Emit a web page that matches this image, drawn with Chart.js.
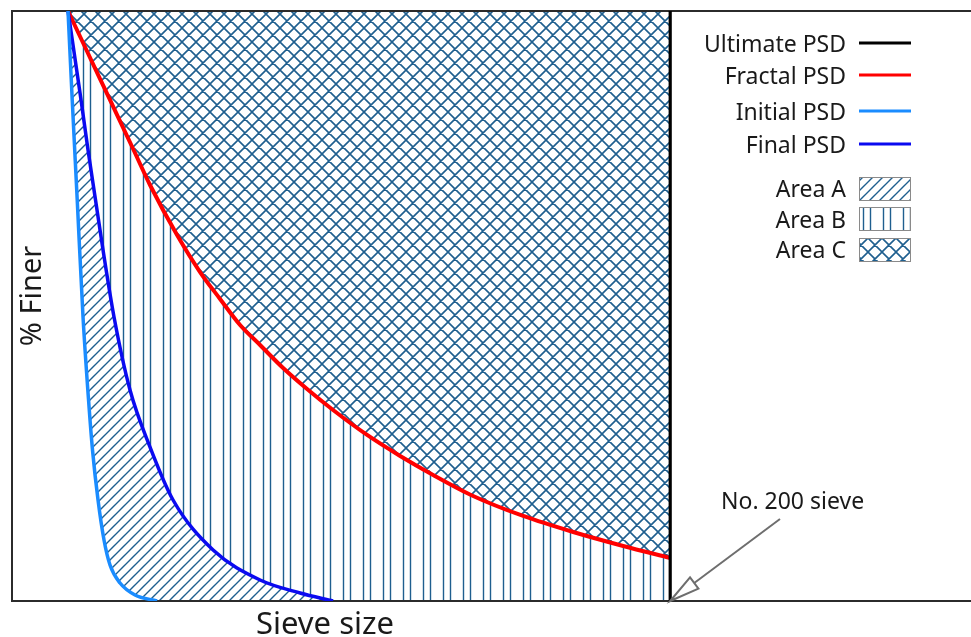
<!DOCTYPE html>
<html>
<head>
<meta charset="utf-8">
<script src="https://cdn.jsdelivr.net/npm/chart.js@4"></script>
<style>
html,body{margin:0;padding:0;background:#fff;overflow:hidden}
#wrap{width:971px;height:637px;position:relative}
</style>
</head>
<body>
<div id="wrap"><canvas id="c"></canvas></div>
<script>
// ---- data (x: relative sieve-size units, No. 200 sieve = 100; y: % finer) ----
const X_MAX = 145.7;
const ULTIMATE_X = 100;

const fractalX = [8.51, 11.31, 14.89, 18.48, 20.97, 25.08, 28.57, 31.61, 34.65, 37.69, 41.19, 44.83, 48.78, 53.95, 58.97, 63.98, 70.06, 77.66, 85.26, 92.86, 100];
const fractalY = [100, 93.39, 84.92, 76.44, 70.51, 62.03, 55.76, 51.19, 46.78, 43.39, 39.49, 35.93, 32.37, 28.14, 24.58, 21.36, 17.80, 14.41, 11.69, 9.32, 7.29];

const initialX = [8.51, 9.15, 9.91, 10.79, 11.63, 12.23, 13.07, 13.98, 14.89, 16.41, 18.69, 22.04];
const initialY = [100, 84.92, 67.97, 48.14, 34.07, 25.59, 17.12, 10.34, 6.10, 3.05, 1.02, 0];

const finalX = [8.51, 10.49, 11.55, 12.69, 13.83, 15.50, 17.93, 20.97, 24.47, 30.55, 37.69, 43.77, 48.78];
const finalY = [100, 84.92, 76.44, 67.97, 59.49, 48.14, 35.76, 26.10, 17.12, 8.64, 3.56, 1.36, 0];

const ultimateX = [ULTIMATE_X, ULTIMATE_X];
const ultimateY = [0, 100];

const lineLabels = ['Ultimate PSD', 'Fractal PSD', 'Initial PSD', 'Final PSD'];
const areaLabels = ['Area A', 'Area B', 'Area C'];
const xTitle = 'Sieve size';
const yTitle = '% Finer';
const annotationText = 'No. 200 sieve';

// ---- helpers ----
const pts = (xs, ys) => xs.map((v, i) => ({x: v, y: ys[i]}));
const HATCH = '#1f5f8f';

function makePattern(kind) {
  const w = kind === 'B' ? 20 : (kind === 'C' ? 14 : 10);
  const h = kind === 'B' ? 10 : w;
  const cv = document.createElement('canvas');
  cv.width = w; cv.height = h;
  const g = cv.getContext('2d');
  g.fillStyle = '#ffffff';
  g.fillRect(0, 0, w, h);
  g.strokeStyle = HATCH;
  g.lineWidth = kind === 'C' ? 1.6 : 1.4;
  g.beginPath();
  if (kind === 'A' || kind === 'C') {
    g.moveTo(-1, h + 1); g.lineTo(w + 1, -1);
    g.moveTo(-1, 1); g.lineTo(1, -1);
    g.moveTo(w - 1, h + 1); g.lineTo(w + 1, h - 1);
  }
  if (kind === 'C') {
    g.moveTo(-1, -1); g.lineTo(w + 1, h + 1);
    g.moveTo(w - 1, -1); g.lineTo(w + 1, 1);
    g.moveTo(-1, h - 1); g.lineTo(1, h + 1);
  }
  if (kind === 'B') {
    g.moveTo(3.5, 0); g.lineTo(3.5, h);
    g.moveTo(10.5, 0); g.lineTo(10.5, h);
  }
  g.stroke();
  return g.createPattern(cv, 'repeat');
}
const patA = makePattern('A');
const patB = makePattern('B');
const patC = makePattern('C');

const decor = {
  id: 'decor',
  afterDraw(chart) {
    const {ctx, scales: {x, y}} = chart;
    const ds = chart.data.datasets;
    ctx.save();
    ctx.fillStyle = '#1a1a1a';
    ctx.font = '23px "Noto Sans"';
    ctx.textAlign = 'right';
    ctx.textBaseline = 'alphabetic';
    const lineBase = [52, 83.5, 119.5, 153];
    const lineMid = [43, 75, 111, 144];
    const lineColors = lineLabels.map(l => ds.find(d => d.label === l).borderColor);
    lineLabels.forEach((t, i) => {
      ctx.fillText(t, 846, lineBase[i]);
      ctx.strokeStyle = lineColors[i];
      ctx.lineWidth = 3;
      ctx.beginPath();
      ctx.moveTo(859, lineMid[i]);
      ctx.lineTo(911, lineMid[i]);
      ctx.stroke();
    });
    const areaBase = [197, 227.5, 257.5];
    const areaTop = [177, 207, 238];
    const pats = [patA, patB, patC];
    areaLabels.forEach((t, i) => {
      ctx.fillStyle = '#1a1a1a';
      ctx.fillText(t, 846, areaBase[i]);
      ctx.fillStyle = pats[i];
      ctx.fillRect(859, areaTop[i], 52, 24);
      ctx.strokeStyle = '#8a8a8a';
      ctx.lineWidth = 1;
      ctx.strokeRect(859.5, areaTop[i] + 0.5, 51, 23);
    });

    // axis titles
    ctx.fillStyle = '#1a1a1a';
    ctx.font = '31px "Noto Sans"';
    ctx.textAlign = 'center';
    ctx.fillText(xTitle, 325, 634);
    ctx.font = '29px "Noto Sans"';
    ctx.save();
    ctx.translate(41, 296);
    ctx.rotate(-Math.PI / 2);
    ctx.fillText(yTitle, 0, 0);
    ctx.restore();

    // annotation arrow
    const tx = x.getPixelForValue(ULTIMATE_X);
    const ty = y.getPixelForValue(0);
    ctx.font = '23px "Noto Sans"';
    ctx.textAlign = 'left';
    ctx.fillText(annotationText, 721, 509);
    const sx = 780, sy = 519;
    const dx = tx - sx, dy = ty - sy, L = Math.hypot(dx, dy);
    const ux = dx / L, uy = dy / L, px = -uy, py = ux;
    const hl = 30, hw = 7;
    const bx = tx - ux * hl, by = ty - uy * hl;
    ctx.strokeStyle = '#6e6e6e';
    ctx.lineWidth = 2;
    ctx.beginPath();
    ctx.moveTo(sx, sy);
    ctx.lineTo(bx, by);
    ctx.stroke();
    ctx.beginPath();
    ctx.moveTo(tx, ty);
    ctx.lineTo(bx + px * hw, by + py * hw);
    ctx.lineTo(bx - px * hw, by - py * hw);
    ctx.closePath();
    ctx.stroke();
    ctx.restore();
  }
};

const axisBase = {
  type: 'linear',
  ticks: {display: false},
  grid: {display: false, drawTicks: false},
  border: {display: true, color: '#2b2b2b', width: 2}
};

new Chart(document.getElementById('c'), {
  type: 'line',
  data: {
    datasets: [
      {label: 'Ultimate PSD', data: pts(ultimateX, ultimateY), borderColor: '#000000', borderWidth: 3.2,
       pointRadius: 0, tension: 0, fill: false, order: 0},
      {label: 'Initial PSD', data: pts(initialX, initialY), borderColor: '#1a8cff', borderWidth: 3.5,
       pointRadius: 0, cubicInterpolationMode: 'monotone', fill: 'start', backgroundColor: '#ffffff', order: 1},
      {label: 'Final PSD', data: pts(finalX, finalY), borderColor: '#0a0af0', borderWidth: 3.5,
       pointRadius: 0, cubicInterpolationMode: 'monotone', fill: 'start', backgroundColor: patA, order: 2},
      {label: 'Fractal PSD', data: pts(fractalX, fractalY), borderColor: '#ff0000', borderWidth: 4,
       pointRadius: 0, cubicInterpolationMode: 'monotone', fill: 'start', backgroundColor: patB, order: 3},
      {label: 'Area C', data: pts(fractalX, fractalY), borderWidth: 0, borderColor: 'rgba(0,0,0,0)',
       pointRadius: 0, cubicInterpolationMode: 'monotone', fill: 'end', backgroundColor: patC, order: 4}
    ]
  },
  options: {
    responsive: true,
    maintainAspectRatio: false,
    animation: false,
    events: [],
    layout: {padding: {left: 12, top: 11, right: 0, bottom: 36}},
    scales: {
      x: Object.assign({}, axisBase, {min: 0, max: X_MAX, position: 'bottom'}),
      x2: Object.assign({}, axisBase, {axis: 'x', min: 0, max: X_MAX, position: 'top'}),
      y: Object.assign({}, axisBase, {min: 0, max: 100, position: 'left'})
    },
    plugins: {
      legend: {display: false},
      tooltip: {enabled: false},
      filler: {drawTime: 'beforeDraw'}
    }
  },
  plugins: [decor]
});
</script>
</body>
</html>
